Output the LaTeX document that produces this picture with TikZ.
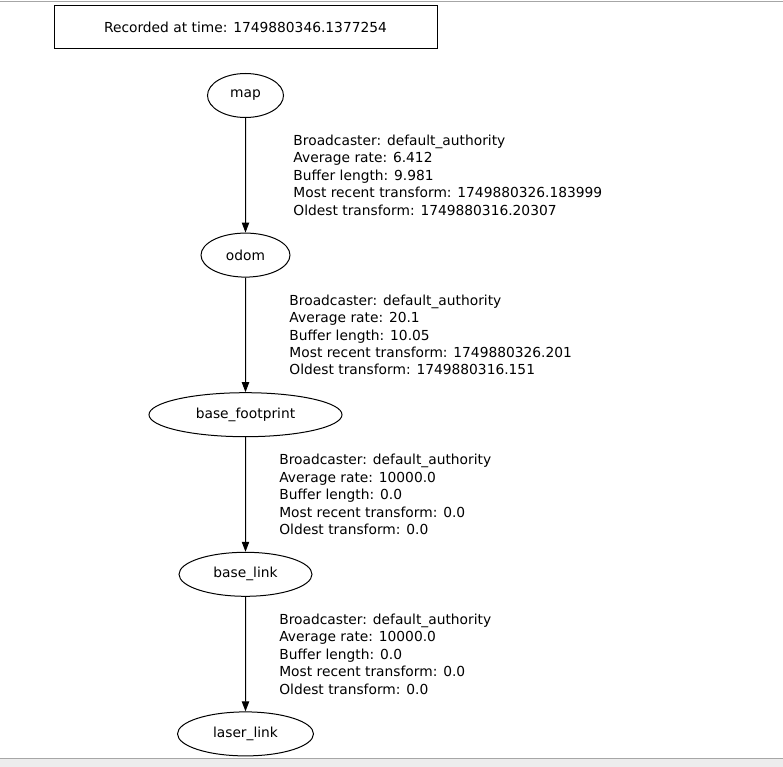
\documentclass[tikz,border=0pt]{standalone}
\usepackage{fontspec}
\setmainfont{DejaVu Sans}
\usetikzlibrary{shapes.geometric,arrows.meta}
\begin{document}
\begin{tikzpicture}[x=0.75pt, y=-0.75pt, ->, >={Triangle[length=7.5pt,width=5.5pt]}, level distance=119.7pt, line width=0.75pt, font=\fontsize{10.35}{13.1}\selectfont]
\tikzstyle{frame}=[ellipse, draw, minimum height=33pt, inner sep=0pt]
\tikzstyle{info}=[midway, anchor=west, align=left, inner sep=0pt]
\useasboundingbox (0,0) rectangle (783,767);
% window edges
\fill[black!7] (0,758) rectangle (783,767);
\draw[-, black!35] (0,758) -- (783,758);
\draw[-, black!35] (0,1.5) -- (783,1.5);
\node[draw, minimum width=287.25pt, minimum height=32.25pt] (stamp) at (245.5,27.5) {Recorded at time: 1749880346.1377254};
\node[frame, minimum width=57pt] (map) at (245.5,95.5) {map}
  child {node[frame, minimum width=66.75pt] (odom) {odom}
    child {node[frame, minimum width=144.75pt] (footprint) {base\_footprint}
      child {node[frame, minimum width=99.75pt] (base) {base\_link}
        child {node[frame, minimum width=102pt] (laser) {laser\_link}
          edge from parent node[info, xshift=25pt] {Broadcaster: default\_authority\\Average rate: 10000.0\\Buffer length: 0.0\\Most recent transform: 0.0\\Oldest transform: 0.0}
        }
        edge from parent node[info, xshift=25pt] {Broadcaster: default\_authority\\Average rate: 10000.0\\Buffer length: 0.0\\Most recent transform: 0.0\\Oldest transform: 0.0}
      }
      edge from parent node[info, xshift=32.6pt] {Broadcaster: default\_authority\\Average rate: 20.1\\Buffer length: 10.05\\Most recent transform: 1749880326.201\\Oldest transform: 1749880316.151}
    }
    edge from parent node[info, xshift=35.6pt] {Broadcaster: default\_authority\\Average rate: 6.412\\Buffer length: 9.981\\Most recent transform: 1749880326.183999\\Oldest transform: 1749880316.20307}
  };
\end{tikzpicture}
\end{document}
